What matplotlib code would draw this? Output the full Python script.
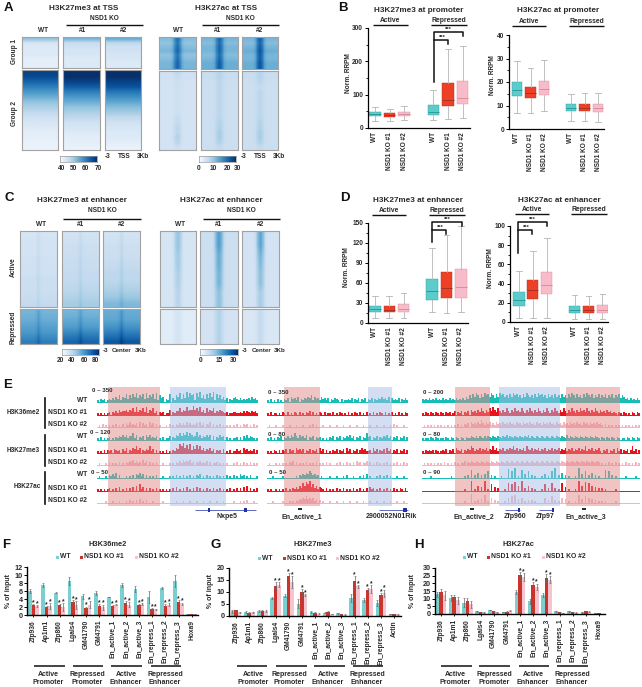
import numpy as np
import matplotlib
matplotlib.use('Agg')
import matplotlib.pyplot as plt
from matplotlib.patches import Rectangle

plt.rcParams['font.family'] = ['Liberation Sans', 'DejaVu Sans']

W, H = 642, 687
TEAL, RED, PINK = '#7CCFCF', '#C9352A', '#F6C4CF'
BOX_FACE = ['#5CCBCB', '#EE3F27', '#F8BBC9']
BOX_MED = ['#2B9C9C', '#A93222', '#DB8C9C']
TRACK_COL = ['#18BDB5', '#E8141C', '#F5B4C2']

# ---- heatmaps: row values in colourbar units, top to bottom, gain = centre enrichment
center_col = [0, 0, 0, 0, 0, 0, 0.2, 1, 0.2, 0, 0, 0, 0, 0, 0]
tss_col = [0, 0, 0, 0, 0, 0.15, 0.7, 1, 0.7, 0.15, 0, 0, 0, 0, 0]

a_me3_g1 = [[52, 45, 44, 44, 44, 43, 43, 43], [54, 47, 46, 45, 45, 44, 44, 44], [55, 48, 46, 46, 45, 45, 44, 44]]
a_me3_g2 = [[68, 67, 64, 61, 58, 55, 52, 50, 48, 46, 45, 44, 43, 43, 42, 42],
            [70, 70, 68, 65, 61, 58, 55, 52, 50, 48, 46, 45, 44, 43, 43, 42],
            [70, 70, 68, 66, 62, 59, 56, 53, 51, 48, 46, 45, 44, 44, 43, 42]]
a_ac_g1 = [[13, 12, 13, 14, 12, 13, 14, 14], [14, 13, 14, 14, 13, 14, 15, 15], [14, 13, 14, 15, 14, 14, 15, 15]]
a_ac_g2 = [[6, 6, 5.5, 5.5, 5.5, 5.5, 5.5, 5.5, 5.5, 5.5, 5.5, 5.5, 5.5, 5.5, 5.5, 5.5],
           [7, 7, 6.5, 6.5, 6.5, 6.5, 6.5, 6.5, 6.5, 6.5, 6.5, 6.5, 6.5, 6.5, 6.5, 6.5],
           [7, 7, 6.5, 6.5, 6.5, 6.5, 6.5, 6.5, 6.5, 6.5, 6.5, 6.5, 6.5, 6.5, 6.5, 6.5]]
a_ac_gain1 = [10, 10, 11]
a_ac_gain2 = [[2, 1, 1, 1, 1, 1, 1, 1, 1, 2, 2, 3, 3, 4, 3, 1],
              [2, 2, 2, 2, 2, 2, 2, 2, 2, 2, 3, 3, 4, 4, 3, 1],
              [2, 2, 2, 1, 2, 2, 2, 2, 2, 2, 3, 3, 4, 4, 3, 1]]

c_me3_act = [[30, 31, 31, 31, 32, 32, 32, 33, 33, 33, 34, 35],
             [31, 32, 33, 33, 34, 34, 35, 35, 36, 37, 39, 41],
             [31, 32, 33, 33, 34, 35, 36, 36, 38, 40, 43, 47]]
c_me3_rep = [[48, 49, 50, 52, 54, 56, 59, 62],
             [48, 49, 51, 53, 56, 60, 64, 68],
             [50, 51, 52, 55, 58, 62, 66, 71]]
c_me3_gain = [5, 5, 6]
c_ac_act = [[5, 5, 5, 5, 5, 5, 5, 5], [6.5, 6.5, 6.5, 6.5, 6.5, 6.5, 6.5, 6.5], [5.5, 5.5, 5.5, 5.5, 5.5, 5.5, 5.5, 5.5]]
c_ac_rep = [[3.5, 3.5, 3.5, 3.5, 3.5, 3.5], [5.5, 5.5, 5.5, 5.5, 5.5, 5.5], [4.5, 4.5, 4.5, 4.5, 4.5, 4.5]]
c_ac_gain_act = [[7, 7, 6, 6, 5, 5, 4, 4], [11, 11, 9, 9, 8, 8, 6, 6], [11, 11, 9, 8, 7, 7, 5, 5]]
c_ac_gain_rep = [2, 4, 3]

# ---- boxplots: low whisker, q1, median, q3, high whisker
box_groups = ['WT', 'NSD1 KO #1', 'NSD1 KO #2', 'WT', 'NSD1 KO #1', 'NSD1 KO #2']
b_me3 = [[22, 37, 42, 49, 62], [22, 33, 39, 45, 58], [24, 36, 42, 49, 65],
         [23, 40, 48, 70, 115], [27, 66, 84, 135, 237], [30, 71, 90, 142, 245]]
b_ac = [[7, 14, 16.5, 20, 29], [7, 13, 15.3, 18, 26], [7.5, 14.3, 17, 20.5, 29.5],
        [3.5, 7.8, 9, 10.7, 15], [3.3, 7.7, 9, 10.7, 15.3], [3, 7.3, 8.8, 10.7, 15.3]]
d_me3 = [[8, 16, 20.5, 26, 41], [7, 16, 20, 25, 41], [8, 16.5, 21.5, 28, 45],
         [17, 35, 48, 66, 113], [15, 38, 52, 76, 132], [16, 38, 54, 81, 146]]
d_ac = [[4, 17, 23, 31, 53], [4.5, 24, 33, 44, 74], [4.5, 29, 39, 52, 87],
        [3.5, 9, 12.5, 17, 28], [3, 9, 12.5, 16.5, 27], [3, 9, 12.5, 17.5, 29]]

# ---- browser tracks, one digit per bin (0-9 signal height)
r1_tracks = [
    "213231232425362547364758465738465738264513271426583749586728594637485927463524132453242323425342",
    "212121231324253445354637354637254624132312251324463547455856473526354624354323122332232424324342",
    "121312121213121314252324151423152413121112131213242425242324152413251312131212121213121323121312",
    "213121231213243535244625132415352324121312241325464657465347352435351413253413121223131425243212",
    "212131323143231425132546351324362413121213121325486957483647463524352413231412131224231534232413",
    "121112131212131213243524231524131213111211121213242534352413242324131223121212111213121312131212",
    "121112132425131112121314352413121213111211121213121312131213241213121213121213121312142312131112",
    "212121231213141213131415162413131213121212121314121314121314131213121312131212131213131415131213",
    "111112111211121112131213141213111211111211111112111211121112111211121112111211111211121213111211",
]
r2_tracks = [
    "213121312132415342513243546253425342413243213122324132413241324132435342514232413242",
    "213122121321312132131213241312132131221312132121312132131213121312132131213121312132",
    "121112111211121112111211121312111211121112111211121112111211121112111211121312111211",
    "213121324132425364253425132413231212132413241324352413241326341324132435241324132413",
    "212132131324142315342413241324152413121324132415241324135342231524132415241324132413",
    "121112121212132413121213121213121213121112131213121314231324131213121213121213121312",
    "111211111211111112132435465342312111121112111213111211121314121112131213121112111211",
    "212112121213121324253758694635243213121213121312121312131213142312131213121312132131",
    "111211111211121213243546453524131211121112111211121112111211121112111211121112111211",
]
r3_tracks = [
    "3232423242324232423242324253647586475867586475867564758675647586564758675647564756475647586475647586574657465746574657465342423242",
    "2132132132132132312413241324153425364253647536425364253645364253642536425364253642536425364253645364253642534253423213213212132132",
    "1212121212121212121213121324153425364253524253425342534253425342534253425342534253425342534253425342534253421312121212121212121212",
    "2122132132122132132132132132243242432424324324324352432432432435243243243243243243243252432432432432432432132132132132122132132132",
    "2132323132123241324153241324365243524352436352435243546352435264352435243524352435243524352435243624352435213241324152413241362413",
    "1212121212121312121312132413243243243243243243243243243243243243243243243243243243243243243243243243243243121213121312121312121312",
    "1111121111111111121111111213171315131416131211121118161912171416131211121412161913151312111219141613151312111716131211111211111211",
    "1111111111111111111111111211191215141912161413111217161815191315131211121613171312171412111219151817151413131211111211111111111111",
    "1111111111111111111111111211181213141712151312111215161714151213131211111513161312151412111217141615141312121211111211111111111111",
]

# ---- qPCR bars
genes_f = ['Zfp936', 'Ap1m1', 'Zfp860', 'Lgals4', 'GM41790', 'GM4791', 'En_active_1', 'En_active_2',
           'En_active_3', 'En_repress_1', 'En_repress_2', 'En_repress_3', 'Hoxa9']
genes_g = genes_f[:12] + ['Actin']
genes_h = genes_f
f_wt = [6, 7.5, 5.6, 8.5, 4.7, 5.5, 4.5, 7.5, 6.5, 4.5, 6.7, 8.5, 0.3]
f_ko1 = [2.4, 1.9, 2.4, 3.3, 1.8, 2.3, 2.2, 2.9, 2.4, 1.4, 2.3, 3.3, 0.3]
f_ko2 = [2.3, 2.2, 2, 2.5, 2.6, 1.9, 2.6, 2.6, 2.8, 1.4, 2.6, 2.8, 0.3]
f_err = [[.4, .4, .2, .9, .6, .5, .1, .5, .8, 1.6, .2, 1.4, 0],
         [.3, .3, .3, .5, .3, .4, .2, .5, .3, .3, .4, .4, 0],
         [.2, .8, .9, 1.0, .8, .7, .2, .6, .2, .2, .4, .3, 0]]
g_wt = [2, 1.5, 2, 7.5, 8.5, 5.2, 1.5, 1.3, 1.2, 7.5, 6.5, 5.5, 0.9]
g_ko1 = [2.3, 1.3, 2.2, 12.5, 16.5, 9.8, 1.3, 1.8, 0.9, 14.5, 10.7, 8.8, 0.8]
g_ko2 = [1.6, 1.5, 2, 13, 14.3, 8.7, 1, 0.9, 0.6, 12.4, 11.3, 9.5, 0.7]
g_err = [[.6, .4, .5, .6, .7, 1.8, .4, .2, .2, 1.7, .8, 1.3, .1],
         [.4, .3, .3, 1.5, 1.3, 1.5, .2, .2, .1, 2, 1, .6, .1],
         [.2, .3, .3, 1.0, 2.5, .3, .2, .1, .1, .6, 1.7, 1.5, .1]]
h_wt = [12.8, 10.5, 7.5, 1.8, 2.5, 1.2, 14.3, 8.3, 12.5, 1.8, 1.8, 1.0, 0.5]
h_ko1 = [14.3, 11, 8.5, 1.2, 1.7, 1.5, 25.5, 18.7, 23.5, 1.2, 1.3, 1.9, 0.4]
h_ko2 = [12.3, 9, 6.5, 1, 1, 2, 24, 17.8, 22.5, 0.8, 0.9, 1.5, 0.3]
h_err = [[1.5, 2.2, 2.7, .2, .2, .2, 1.5, 1.5, 1.5, .2, .2, .2, 0],
         [2.3, 1.5, 1.8, .1, .2, .2, 2, 2.2, 2.5, .1, .2, .2, 0],
         [3, 2.2, 2.3, .2, .2, .3, 2.7, 2, 2, .1, .1, .2, 0]]
f_stars = list(range(12))
g_stars = [3, 4, 5, 9, 10, 11]
h_stars = [6, 7, 8]

fig = plt.figure(figsize=(W / 100, H / 100), dpi=100)


def px_ax(x0, y0, x1, y1, **kw):
    return fig.add_axes([x0 / W, 1 - y1 / H, (x1 - x0) / W, (y1 - y0) / H], **kw)


ov = fig.add_axes([0, 0, 1, 1], zorder=5)
ov.set_xlim(0, W)
ov.set_ylim(H, 0)
ov.axis('off')
ov.patch.set_alpha(0)


def txt(x, y, s, size=4.7, bold=True, ha='center', va='center', rot=0, color='#2A2A2A'):
    ov.text(x, y, s, fontsize=size, fontweight='bold' if bold else 'normal', ha=ha, va=va,
            rotation=rot, color=color)


def hline(x0, x1, y, lw=1.0, color='#111111'):
    ov.plot([x0, x1], [y, y], color=color, lw=lw, solid_capstyle='butt')


def heat_block(box, rows, col, gain, vmin, vmax):
    ax = px_ax(*box)
    rows = np.array(rows, dtype=float)
    gain = np.broadcast_to(np.array(gain, dtype=float), rows.shape)
    img = rows[:, None] + gain[:, None] * np.array(col)[None, :]
    ax.imshow(img, cmap='Blues', vmin=vmin, vmax=vmax, aspect='auto', interpolation='bilinear')
    ax.set_xticks([])
    ax.set_yticks([])
    for s in ax.spines.values():
        s.set_color('#A2A2A2')
        s.set_linewidth(0.8)


def colorbar(x0, x1, y0, y1, vmin, vmax):
    ax = px_ax(x0, y0, x1, y1)
    ax.imshow(np.linspace(vmin, vmax, 128)[None, :], cmap='Blues', vmin=vmin, vmax=vmax, aspect='auto')
    ax.set_xticks([])
    ax.set_yticks([])
    for s in ax.spines.values():
        s.set_color('#999999')
        s.set_linewidth(0.5)


# panel A
xs_me3 = [(22, 58), (63, 100), (105, 141)]
xs_ac = [(159, 196), (201, 238), (242, 278)]
for i in range(3):
    heat_block((xs_me3[i][0], 37, xs_me3[i][1], 68), a_me3_g1[i], center_col, 0, 40, 70)
    heat_block((xs_me3[i][0], 69.5, xs_me3[i][1], 150), a_me3_g2[i], center_col, 0, 40, 70)
    heat_block((xs_ac[i][0], 37, xs_ac[i][1], 69), a_ac_g1[i], tss_col, a_ac_gain1[i], 0, 30)
    heat_block((xs_ac[i][0], 70.5, xs_ac[i][1], 150), a_ac_g2[i], tss_col, a_ac_gain2[i], 0, 30)
colorbar(60, 97, 156, 162, 40, 70)
colorbar(199, 236, 156, 162, 0, 30)
txt(84, 8, 'H3K27me3 at TSS', 5.9)
txt(226, 8, 'H3K27ac at TSS', 5.9)
txt(104, 18, 'NSD1 KO')
txt(240, 18, 'NSD1 KO')
hline(66, 143, 25)
hline(202, 279, 25)
for x, s in zip([43, 83, 124, 178, 218, 260], ['WT', '#1', '#2'] * 2):
    txt(x, 31, s)
txt(15, 52, 'Group 1', rot=90)
txt(15, 113, 'Group 2', rot=90)
for x, s in zip([108, 124, 143, 244, 260, 279], ['-3', 'TSS', '3Kb'] * 2):
    txt(x, 156.5, s)
for x, s in zip([62, 73, 85, 98, 199, 213, 227, 237], ['40', '50', '60', '70', '0', '10', '20', '30']):
    txt(x, 168, s)

# panel C
xs_me3c = [(20, 57), (62, 99), (103, 140)]
xs_acc = [(160, 196), (200, 238), (242, 279)]
for i in range(3):
    heat_block((xs_me3c[i][0], 231, xs_me3c[i][1], 307), c_me3_act[i], center_col, c_me3_gain[i] * 0.6, 20, 80)
    heat_block((xs_me3c[i][0], 308.5, xs_me3c[i][1], 344), c_me3_rep[i], center_col, c_me3_gain[i], 20, 80)
    heat_block((xs_acc[i][0], 231, xs_acc[i][1], 307), c_ac_act[i], tss_col, c_ac_gain_act[i], 0, 30)
    heat_block((xs_acc[i][0], 308.5, xs_acc[i][1], 344), c_ac_rep[i], tss_col, c_ac_gain_rep[i], 0, 30)
colorbar(62, 99, 349, 355, 20, 80)
colorbar(200, 238, 349, 355, 0, 30)
txt(82, 200, 'H3K27me3 at enhancer', 5.9)
txt(221, 200, 'H3K27ac at enhancer', 5.9)
txt(102, 211, 'NSD1 KO')
txt(241, 211, 'NSD1 KO')
hline(63, 141, 219)
hline(203, 280, 218.5)
for x, s in zip([41, 81, 122, 180, 219, 261], ['WT', '#1', '#2'] * 2):
    txt(x, 224, s)
txt(13, 267, 'Active', rot=90)
txt(13, 327, 'Repressed', rot=90)
for x, s in zip([106, 122, 141, 245, 262, 280], ['-3', 'Center', '3Kb'] * 2):
    txt(x, 350, s, 4.5)
for x, s in zip([60, 72, 84, 95, 201, 219, 233], ['20', '40', '60', '80', '0', '15', '30']):
    txt(x, 361, s)


# panels B, D
def boxes(box, stats, ymax, major, minor, x_first, step):
    x0, y0, x1, y1 = box
    ax = px_ax(x0, y0, x1, y1)
    st = [dict(whislo=s[0], q1=s[1], med=s[2], q3=s[3], whishi=s[4], fliers=[], label=lab)
          for s, lab in zip(stats, box_groups)]
    pos = [0, 1, 2, 4, 5, 6]
    art = ax.bxp(st, positions=pos, widths=0.8, patch_artist=True, showfliers=False)
    for i in range(6):
        c = i % 3
        art['boxes'][i].set(facecolor=BOX_FACE[c], edgecolor=BOX_MED[c], linewidth=0.3)
        art['medians'][i].set(color=BOX_MED[c], linewidth=0.7)
    for k in ['whiskers', 'caps']:
        for a in art[k]:
            a.set(color='#B5B5B5', linewidth=0.6)
    ax.set_xlim((x0 - x_first) / step, (x1 - x_first) / step)
    ax.set_ylim(0, ymax)
    ax.set_yticks(major)
    ax.set_yticks(minor, minor=True)
    ax.set_xticks(pos)
    ax.set_xticklabels(box_groups, rotation=90, fontsize=4.7, fontweight='bold', color='#2A2A2A')
    ax.tick_params(axis='x', length=0, pad=3)
    ax.tick_params(axis='y', length=2.5, width=0.7, pad=1, labelsize=4.7, labelcolor='#2A2A2A')
    ax.tick_params(axis='y', which='minor', length=1.5, width=0.6)
    for lab in ax.get_yticklabels():
        lab.set_fontweight('bold')
    ax.spines[['top', 'right']].set_visible(False)
    ax.spines[['left', 'bottom']].set_linewidth(0.9)
    ax.patch.set_alpha(0)


def bracket(x0, x1, x2, y_bottom, y_top, y_mid):
    ov.plot([x0, x0, x2, x2], [y_bottom, y_top, y_top, y_top + 4], color='#111111', lw=1.1)
    ov.plot([x0, x1, x1], [y_mid, y_mid, y_mid + 4], color='#111111', lw=1.1)
    txt((x0 + x1) / 2 + 1, y_mid - 3, '***', 4.2)
    txt((x0 + x2) / 2, y_top - 3, '***', 4.2)


boxes((368, 28, 470, 128), b_me3, 300, [0, 100, 200, 300], [50, 150, 250], 375, 14.6)
boxes((509, 35, 604, 129), b_ac, 40, [0, 10, 20, 30, 40], [5, 15, 25, 35], 517, 13.5)
boxes((368, 223, 468, 323), d_me3, 150, [0, 30, 60, 90, 120, 150], [15, 45, 75, 105, 135], 375, 14.3)
boxes((510, 226, 608, 322), d_ac, 100, [0, 20, 40, 60, 80, 100], [10, 30, 50, 70, 90], 519, 13.9)
bracket(434, 448, 463, 82, 32, 40)
bracket(432, 446, 462, 242, 222, 230)
bracket(518, 532, 547, 253, 222, 230)
txt(419, 10, 'H3K27me3 at promoter', 5.9)
txt(558, 10, 'H3K27ac at promoter', 5.9)
txt(418, 200, 'H3K27me3 at enhancer', 5.9)
txt(559, 200, 'H3K27ac at enhancer', 5.9)
for x0, x1, y, s in [(373, 408, 24.5, 'Active'), (431, 467, 24.5, 'Repressed'), (512, 546, 26, 'Active'),
                     (569, 604, 26, 'Repressed'), (372, 406, 215, 'Active'), (429, 465, 215, 'Repressed'),
                     (515, 549, 214, 'Active'), (571, 607, 214, 'Repressed')]:
    hline(x0, x1, y)
    txt((x0 + x1) / 2, y - 4.5, s, 4.9)
for x, y in [(348, 73), (493, 75), (347, 267), (490, 268)]:
    txt(x, y, 'Norm. RRPM', rot=90)

# panel E
track_base = [403, 416, 428, 441, 454, 466, 479, 492, 504]
track_x = [(97, 258), (267, 408), (422, 640)]
for (x0, x1), tracks in zip(track_x, [r1_tracks, r2_tracks, r3_tracks]):
    for i, t in enumerate(tracks):
        vals = [int(v) for v in t]
        ax = px_ax(x0, track_base[i] - 12, x1, track_base[i], zorder=2)
        ax.bar(np.arange(len(vals)), vals, width=1.0, color=TRACK_COL[i % 3], linewidth=0)
        ax.set_xlim(-0.5, len(vals) - 0.5)
        ax.set_ylim(0, 9.5)
        ax.axis('off')
for x0, x1, c in [(108, 160, '#E48A8A'), (170, 226, '#A8BEE6'), (284, 320, '#E48A8A'), (368, 392, '#A8BEE6'),
                  (455, 490, '#E48A8A'), (499, 560, '#A8BEE6'), (566, 620, '#E48A8A')]:
    ov.add_patch(Rectangle((x0, 387), x1 - x0, 119, facecolor=c, alpha=0.5, linewidth=0))
for x, y, s in [(92, 391, '0 – 350'), (90, 433, '0 – 120'), (91, 472, '0 – 50'), (268, 392, '0 – 350'),
                (268, 434, '0 – 80'), (269, 473, '0 – 50'), (423, 392, '0 – 200'), (423, 434, '0 – 80'),
                (423, 473, '0 – 90')]:
    txt(x, y, s, 4.4, ha='left')
for k, y in enumerate([400, 412, 425, 437, 450, 462, 474, 488, 500]):
    txt(87, y, ['WT', 'NSD1 KO #1', 'NSD1 KO #2'][k % 3], 4.8, ha='right')
for y0, y1 in [(398, 428), (435, 466), (472, 504)]:
    ov.plot([45, 45], [y0, y1], color='#111111', lw=1.2)
txt(23, 412, 'H3K36me2')
txt(23, 450, 'H3K27me3')
txt(27, 487, 'H3K27ac')
# gene models
gene_blue = '#1F2FA8'
for x0, x1, exons in [(195, 256, [(209, 1.5), (245, 3)]), (379, 408, [(405, 4)]), (505, 520, [(519, 2.5)]),
                      (539, 553, [(553, 2.5)])]:
    hline(x0, x1, 510, 0.5, gene_blue)
    for ex, w in exons:
        ov.add_patch(Rectangle((ex - w / 2, 508), w, 4, facecolor=gene_blue, linewidth=0))
for x in [300, 472, 584]:
    hline(x - 2, x + 2, 508.5, 1.3)
for x, s in [(227, 'Nxpe5'), (302, 'En_active_1'), (391, '2900052N01Rik'), (474, 'En_active_2'), (515, 'Zfp960'),
             (545, 'Zfp97'), (586, 'En_active_3')]:
    txt(x, 517, s, 5)


# panels F, G, H
def bars(box, wt, ko1, ko2, err, genes, stars, ymax, ticks, first, step):
    x0, y0, x1, y1 = box
    ax = px_ax(x0, y0, x1, y1)
    pos = np.arange(len(genes))
    w = 0.27
    for k, (v, c) in enumerate(zip([wt, ko1, ko2], [TEAL, RED, PINK])):
        ax.bar(pos + (k - 1) * w, v, w, color=c, yerr=err[k], linewidth=0,
               error_kw=dict(ecolor='#666666', elinewidth=0.5, capsize=0.8, capthick=0.4))
    for g in stars:
        for k, v in [(1, ko1), (2, ko2)]:
            ax.annotate('*', (pos[g] + (k - 1) * w, v[g] + err[k][g]), xytext=(0, -1.5), textcoords='offset points',
                        ha='center', va='bottom', fontsize=4.8, fontweight='bold', color='#2A2A2A')
    ax.set_xlim((x0 - first) / step, (x1 - first) / step)
    ax.set_ylim(0, ymax)
    ax.set_yticks(ticks)
    ax.set_xticks(pos)
    ax.set_xticklabels(genes, rotation=90, fontsize=4.8, fontweight='bold', color='#2A2A2A')
    ax.tick_params(axis='x', length=1.5, width=0.6, pad=2)
    ax.tick_params(axis='y', length=2, width=0.7, pad=1, labelsize=5.2, labelcolor='#2A2A2A')
    for lab in ax.get_yticklabels():
        lab.set_fontweight('bold')
    ax.spines[['top', 'right']].set_visible(False)
    ax.spines[['left', 'bottom']].set_linewidth(1.0)
    ax.patch.set_alpha(0)


def bar_deco(title, tx, ly, sq, lines, centers, ylab_x):
    txt(tx, 544, title, 5.4)
    for x, c, s in zip(sq, [TEAL, RED, PINK], ['WT', 'NSD1 KO #1', 'NSD1 KO #2']):
        ov.add_patch(Rectangle((x - 1.5, ly - 1.5), 3, 3, facecolor=c, linewidth=0))
        txt(x + 3, ly, s, 4.9, ha='left')
    for a, b in lines:
        hline(a, b, 666, 1.1)
    for m, t, u in zip(centers, ['Active', 'Repressed', 'Active', 'Repressed'],
                       ['Promoter', 'Promoter', 'Enhancer', 'Enhancer']):
        txt(m, 674.5, t, 5)
        txt(m, 683, u, 5)
    txt(ylab_x, 591, '% of input', 5, rot=90)


bars((27, 567, 198, 615), f_wt, f_ko1, f_ko2, f_err, genes_f, f_stars, 12, [0, 2, 4, 6, 8, 10, 12], 33.3, 13.2)
bars((229, 568, 401, 616), g_wt, g_ko1, g_ko2, g_err, genes_g, g_stars, 20, [0, 5, 10, 15, 20], 236, 13.17)
bars((435, 568, 605, 614), h_wt, h_ko1, h_ko2, h_err, genes_h, h_stars, 30, [0, 5, 10, 15, 20, 25, 30], 441, 13.17)
bar_deco('H3K36me2', 108, 557, [57, 81, 136], [(34, 65), (73, 103), (111, 142), (151, 181)], [48, 87, 126, 165], 9)
bar_deco('H3K27me3', 313, 558, [259, 284, 337], [(237, 267), (276, 307), (314, 345), (353, 383)],
         [253, 289, 328, 367], 211)
bar_deco('H3K27ac', 518, 557, [464, 488, 543], [(441, 472), (479, 510), (519, 549), (557, 588)],
         [455, 494, 533, 572], 413)

# panel letters
for x, y, s in [(8, 8, 'A'), (343, 8, 'B'), (9, 198, 'C'), (345, 198, 'D'), (8, 385, 'E'), (6, 545, 'F'),
                (216, 545, 'G'), (419, 545, 'H')]:
    txt(x, y, s, 9.5, color='#111111')

fig.savefig('out.png', dpi=100)
